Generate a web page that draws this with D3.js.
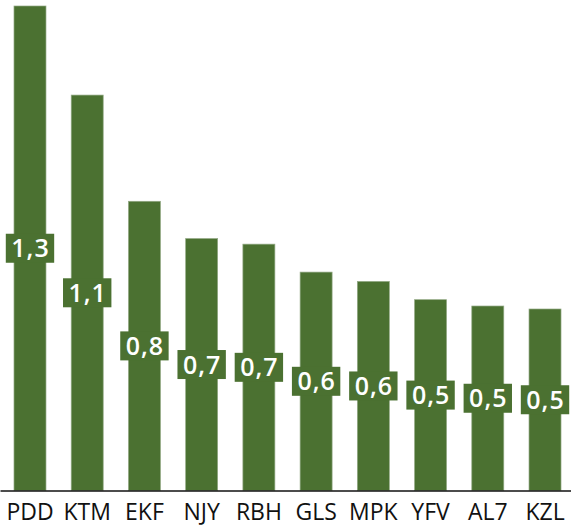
<!DOCTYPE html>
<html>
<head>
<meta charset="utf-8">
<script src="https://cdn.jsdelivr.net/npm/d3@7"></script>
<style>
  body { margin: 0; background: #fff; }
  svg { display: block; }
  .axis text { font-family: "Open Sans", sans-serif; font-size: 23px; fill: #111; }
  .lbl text { font-family: "Open Sans", sans-serif; font-size: 25px; font-weight: 600; fill: #fff; letter-spacing: 1px; }
</style>
</head>
<body>
<svg id="chart"></svg>
<script>
// values
const codes = ["PDD", "KTM", "EKF", "NJY", "RBH", "GLS", "MPK", "YFV", "AL7", "KZL"];
const values = [1.30, 1.061, 0.776, 0.676, 0.661, 0.586, 0.561, 0.512, 0.495, 0.487];

const svgWidth = 571, svgHeight = 531;
const baseY = 490.5, topY = 6;
const barColor = "#4b7131";

const svg = d3.select("#chart").attr("width", svgWidth).attr("height", svgHeight);

const x = d3.scaleBand().domain(codes).range([0, 575])
  .paddingInner(0.441).paddingOuter(0.2445);
const y = d3.scaleLinear().domain([0, 1.3]).range([baseY, topY]);

const data = codes.map(function(c, i) { return {code: c, value: values[i]}; });

svg.append("g")
  .selectAll("rect")
  .data(data)
  .enter().append("rect")
    .attr("x", function(d) { return x(d.code); })
    .attr("y", function(d) { return y(d.value); })
    .attr("width", x.bandwidth())
    .attr("height", function(d) { return baseY - y(d.value); })
    .attr("fill", barColor)
    .attr("stroke", "#93a985")
    .attr("stroke-width", 0.7);

// axis
const axis = svg.append("g")
  .attr("class", "axis")
  .attr("transform", "translate(0," + baseY + ")")
  .call(d3.axisBottom(x).tickSize(0));
axis.select(".domain").attr("stroke", "#111").attr("stroke-width", 1.4);
axis.selectAll("text").attr("y", 29).attr("dy", 0);

// value labels centred on each bar
const fmt = d3.format(".1f");
const lbl = svg.append("g").attr("class", "lbl")
  .selectAll("g")
  .data(data)
  .enter().append("g")
    .attr("transform", function(d) {
      return "translate(" + (x(d.code) + x.bandwidth() / 2) + "," + ((y(d.value) + baseY) / 2) + ")";
    });

lbl.append("rect").attr("fill", barColor);
lbl.append("text")
  .attr("text-anchor", "middle")
  .attr("dx", "0.5")
  .attr("dy", "0.36em")
  .text(function(d) { return fmt(d.value).replace(".", ","); });

lbl.each(function() {
  const g = d3.select(this);
  const w = g.select("text").node().getComputedTextLength();
  g.select("rect")
    .attr("x", -w / 2 - 5)
    .attr("y", -14.5)
    .attr("width", w + 10)
    .attr("height", 29);
});
</script>
</body>
</html>
